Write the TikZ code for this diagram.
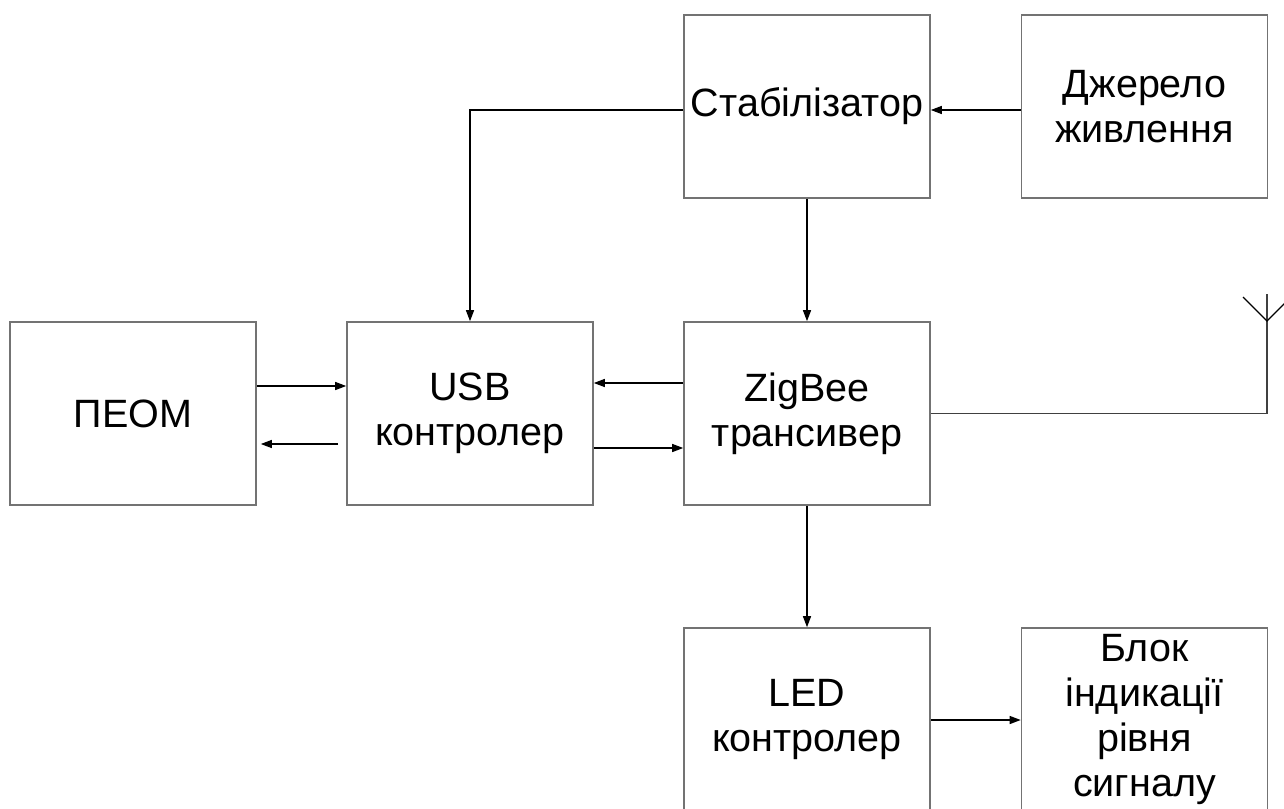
\documentclass[tikz,border=0pt]{standalone}
\usepackage{fontspec}
\setmainfont{Liberation Sans}
\usetikzlibrary{arrows.meta,calc}
\begin{document}
\begin{tikzpicture}[x=1pt,y=-1pt,
  blk/.style={draw=black!55,line width=1.6pt,minimum width=246pt,minimum height=183pt,inner sep=0pt,align=center,font=\fontsize{39.5}{45}\selectfont},
  conn/.style={line width=1.3pt,-{Triangle[length=11pt,width=8pt]}},
  wire/.style={line width=1.3pt,draw=black!75}]
\useasboundingbox (0,0) rectangle (1284,808);
\clip (0,0) rectangle (1284,808);
\fill[white] (0,0) rectangle (1284,808);
\node[blk] (peom) at (133,413.5) {ПЕОМ};
\node[blk] (usb) at (470,413.5) {USB\\контролер};
\node[blk] (zig) at (807,413.5) {ZigBee\\трансивер};
\node[blk] (stab) at (807,106.5) {Стабілізатор};
\node[blk] (dzh) at (1144.5,106.5) {Джерело\\живлення};
\node[blk] (led) at (807,719.5) {LED\\контролер};
\node[blk] (ind) at (1144.5,719.5) {Блок\\індикації\\рівня\\сигналу};
\coordinate (ant) at (1267,321);
\coordinate (antL) at (1243,297);
\coordinate (antR) at (1291,297);
\coordinate (antT) at (1267,294);
\draw[conn] ([yshift=-3.5pt]stab.west) -| (usb.north);
\draw[conn] ([yshift=-3.5pt]dzh.west) -- ([yshift=-3.5pt]stab.east);
\draw[conn] (stab.south) -- (zig.north);
\draw[conn] ([yshift=27.5pt]peom.east) -- ([yshift=27.5pt]usb.west);
\draw[conn] ([shift={(-8pt,-30.5pt)}]usb.west) -- ([shift={(4pt,-30.5pt)}]peom.east);
\draw[conn] ([yshift=30.5pt]zig.west) -- ([yshift=30.5pt]usb.east);
\draw[conn] ([yshift=-34.5pt]usb.east) -- ([yshift=-34.5pt]zig.west);
\draw[conn] (zig.south) -- (led.north);
\draw[conn] ([yshift=-0.5pt]led.east) -- ([yshift=-0.5pt]ind.west);
\draw[wire] (zig.east) -| (antT);
\draw[line width=1.3pt] (antL) -- (ant) -- (antR);
\end{tikzpicture}
\end{document}
